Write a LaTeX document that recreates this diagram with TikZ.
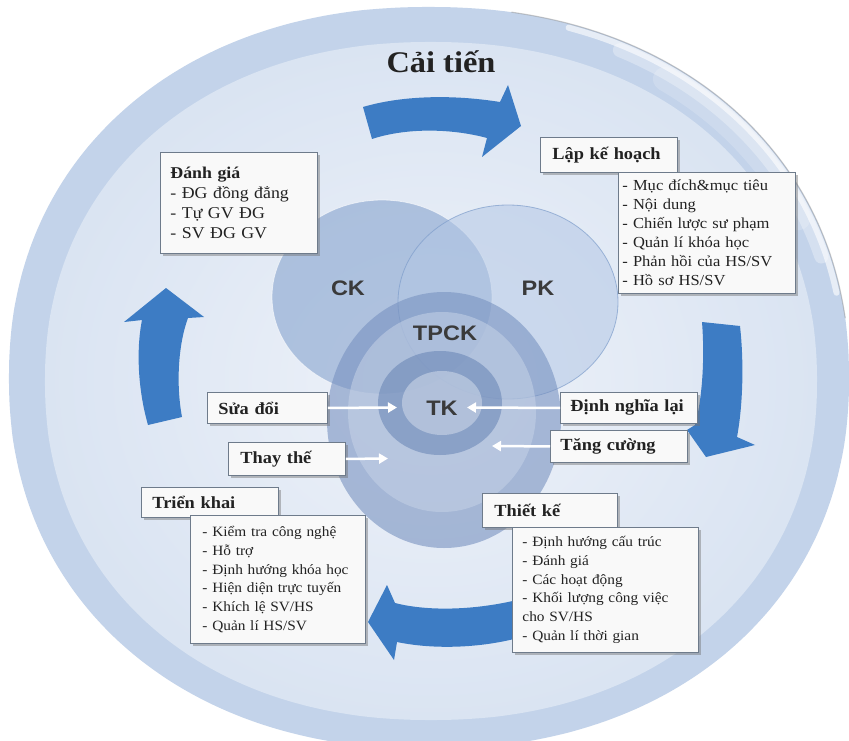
\documentclass[tikz,border=0pt]{standalone}
\usepackage{fontspec}
\setmainfont{Liberation Serif}
\newfontfamily\boxfont[FakeStretch=1.08]{Liberation Serif}
\newfontfamily\venfont[FakeStretch=1.12]{Liberation Sans}
\usetikzlibrary{shadows,arrows.meta}
\definecolor{ringblue}{HTML}{C3D3EA}
\definecolor{innerlight}{HTML}{EEF2F9}
\definecolor{innerouter}{HTML}{DAE4F2}
\definecolor{ckc}{HTML}{7E9DCB}
\definecolor{pkc}{HTML}{B3C7E5}
\definecolor{tka}{HTML}{7892C0}
\definecolor{tkb}{HTML}{C6D3E7}
\definecolor{tkc}{HTML}{5F7DB0}
\definecolor{tkd}{HTML}{CBD6E8}
\definecolor{arrowblue}{HTML}{3D7CC4}
\definecolor{boxline}{HTML}{6E7B8B}
\definecolor{boxfill}{HTML}{F9F9F9}
\definecolor{txt}{HTML}{222222}
\definecolor{ventxt}{HTML}{3A3A3A}
\tikzset{
  box/.style={draw=boxline, fill=boxfill, line width=0.9pt, anchor=north west,
    align=left, inner ysep=1pt, text=txt,
    drop shadow={shadow xshift=2.5pt, shadow yshift=-2.5pt, opacity=.45, fill=black!55}},
  titlebox/.style={box, font=\boxfont\bfseries\fontsize{17}{20}\selectfont},
  listbox/.style={box, font=\boxfont\fontsize{14.2}{18.8}\selectfont},
  venlabel/.style={font=\venfont\bfseries\fontsize{21}{24}\selectfont, text=ventxt},
  bigarrow/.style={fill=arrowblue},
  gloss/.style={white, line cap=round},
  warrow/.style={draw=white, line width=2.5pt, -{Triangle[length=9pt,width=10pt]}},
}
\begin{document}
\begin{tikzpicture}[x=1pt,y=-1pt]
\useasboundingbox (0,0) rectangle (849,741);
\fill[white] (0,0) rectangle (849,741);
\begin{scope}
\clip (0,0) rectangle (849,741);
% background discs (slightly full ellipses)
\fill[ringblue] plot[domain=0.5:360.5, samples=145, smooth]
  ({429+420*sign(cos(\x))*abs(cos(\x))^0.93},{378-371*sign(sin(\x))*abs(sin(\x))^0.93}) -- cycle;
\draw[gloss, line width=24, opacity=.18]
  plot[domain=25:56, samples=20, smooth]
  ({429+405*abs(cos(\x))^0.93},{378-356*abs(sin(\x))^0.93});
\draw[gloss, line width=14, opacity=.3]
  plot[domain=18:64, samples=25, smooth]
  ({429+411*abs(cos(\x))^0.93},{378-362*abs(sin(\x))^0.93});
\draw[gloss, line width=6, opacity=.6]
  plot[domain=12:72, samples=30, smooth]
  ({429+416*abs(cos(\x))^0.93},{378-367*abs(sin(\x))^0.93});
\draw[black!45, line width=1.1pt, opacity=.45, line cap=round]
  plot[domain=8:80, samples=30, smooth]
  ({429+420*abs(cos(\x))^0.93},{378-371*abs(sin(\x))^0.93});
\shade[inner color=innerlight, outer color=innerouter] plot[domain=0.5:360.5, samples=145, smooth]
  ({431+386*sign(cos(\x))*abs(cos(\x))^0.93},{381-339*sign(sin(\x))*abs(sin(\x))^0.93}) -- cycle;
\end{scope}
% Venn circles
\fill[ckc, fill opacity=.55] (382,297) ellipse [x radius=110, y radius=97];
\draw[white, opacity=.6, line width=0.8pt] (382,297) ellipse [x radius=110, y radius=97];
\fill[pkc, fill opacity=.55] (508,302) ellipse [x radius=110, y radius=97];
\draw[ckc, opacity=.7, line width=0.8pt] (508,302) ellipse [x radius=110, y radius=97];
\fill[tka, fill opacity=.6] (444,420) ellipse [x radius=117, y radius=128];
\fill[tkb, fill opacity=.55] (442,412) ellipse [x radius=94, y radius=100];
\fill[tkc, fill opacity=.5] (440,403) ellipse [x radius=62, y radius=52];
\fill[tkd, fill opacity=.6] (442,403) ellipse [x radius=40, y radius=32];
% big circular arrows
\fill[bigarrow] (363,107) .. controls (400,96) and (450,94) .. (500,102) -- (508,85) -- (521,126)
  -- (482,157) -- (487,138) .. controls (450,128) and (405,128) .. (372,139) -- cycle;
\fill[bigarrow] (702,322) -- (740,326) .. controls (744,362) and (743,405) .. (737,437) -- (755,445)
  -- (706,457) -- (687,430) -- (695,425) .. controls (702,400) and (705,360) .. (702,322) -- cycle;
\fill[bigarrow] (525,598) .. controls (480,610) and (430,612) .. (395,603) -- (387,585) -- (368,622)
  -- (394,660) -- (397,642) .. controls (435,650) and (485,648) .. (525,636) -- cycle;
\fill[bigarrow] (148,425) .. controls (138,390) and (136,350) .. (142,320) -- (124,322) -- (166,288)
  -- (204,317) -- (188,318) .. controls (178,345) and (176,385) .. (182,417) -- cycle;
% labels in the Venn diagram
\node[venlabel] (ck) at (348,288) {CK};
\node[venlabel] (pk) at (538,288) {PK};
\node[venlabel] (tpck) at (445,333) {TPCK};
\node[venlabel] (tk) at (442,408) {TK};
% title
\node[font=\boxfont\bfseries\fontsize{30}{34}\selectfont, text=txt] (title) at (441,62) {Cải tiến};
% boxes
\node[box, font=\boxfont\fontsize{16.5}{20}\selectfont, inner xsep=10pt, text width=137pt, minimum height=101pt]
  (dg) at (160,152) {\textbf{Đánh giá}\\- ĐG đồng đẳng\\- Tự GV ĐG\\- SV ĐG GV};
\node[titlebox, inner xsep=12pt, text width=113pt, minimum height=35pt] (lap) at (540,137) {Lập kế hoạch};
\node[listbox, font=\boxfont\fontsize{15.3}{19}\selectfont, inner xsep=4pt, text width=169pt, minimum height=121pt]
  (laplist) at (618,172) {- Mục đích\&mục tiêu\\- Nội dung\\- Chiến lược sư phạm\\- Quản lí khóa học\\- Phản hồi của HS/SV\\- Hồ sơ HS/SV};
\node[titlebox, inner xsep=11pt, text width=98pt, minimum height=31pt] (sua) at (207,392) {Sửa đổi};
\node[titlebox, inner xsep=12pt, text width=93pt, minimum height=33pt] (thay) at (228,442) {Thay thế};
\node[titlebox, inner xsep=10pt, text width=117pt, minimum height=31pt] (dinh) at (560,392) {Định nghĩa lại};
\node[titlebox, inner xsep=10pt, text width=117pt, minimum height=32pt] (tang) at (550,430) {Tăng cường};
\node[titlebox, inner xsep=11pt, text width=115pt, minimum height=30pt] (trien) at (141,487) {Triển khai};
\node[listbox, inner xsep=12pt, text width=151pt, minimum height=128pt]
  (trienlist) at (190,515) {- Kiểm tra công nghệ\\- Hỗ trợ\\- Định hướng khóa học\\- Hiện diện trực tuyến\\- Khích lệ SV/HS\\- Quản lí HS/SV};
\node[titlebox, inner xsep=12pt, text width=111pt, minimum height=34pt] (thiet) at (482,493) {Thiết kế};
\node[listbox, inner xsep=10pt, text width=166pt, minimum height=125pt]
  (thietlist) at (512,527) {- Định hướng cấu trúc\\- Đánh giá\\- Các hoạt động\\- Khối lượng công việc\\cho SV/HS\\- Quản lí thời gian};
% white arrows towards TK
\coordinate (suaend) at (397,407.5);
\coordinate (thayend) at (388,458.5);
\coordinate (dinhend) at (467,407.5);
\coordinate (tangend) at (492,446);
\draw[warrow] (sua.east) -- (suaend);
\draw[warrow] (thay.east) -- (thayend);
\draw[warrow] (dinh.west) -- (dinhend);
\draw[warrow] (tang.west) -- (tangend);
\end{tikzpicture}
\end{document}
